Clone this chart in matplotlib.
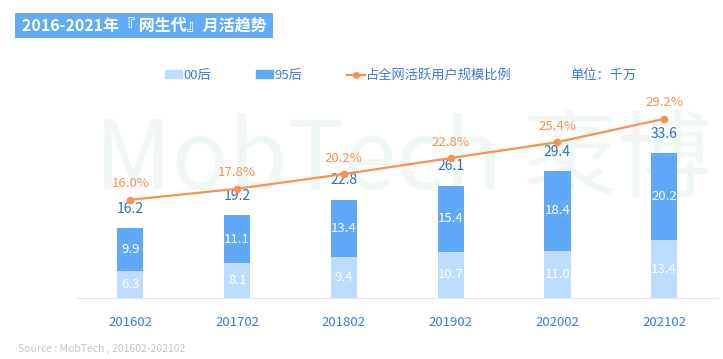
import matplotlib
matplotlib.use('Agg')
import matplotlib.pyplot as plt
from matplotlib.patches import Rectangle, Patch
from matplotlib.lines import Line2D

plt.rcParams['font.family'] = ['Noto Sans CJK SC', 'DejaVu Sans']

periods = ['201602', '201702', '201802', '201902', '202002', '202102']
gen00 = [6.3, 8.1, 9.4, 10.7, 11.0, 13.4]
gen95 = [9.9, 11.1, 13.4, 15.4, 18.4, 20.2]
totals = [16.2, 19.2, 22.8, 26.1, 29.4, 33.6]
share = [16.0, 17.8, 20.2, 22.8, 25.4, 29.2]

c00 = '#bddcff'
c95 = '#5fa9f8'
corange = '#f8924f'
cdark = '#2f70c4'

fig = plt.figure(figsize=(7.23, 3.59), dpi=100)
fig.patch.set_facecolor('white')

# faint watermark in the background
fig.text(0.985, 0.55, 'MobTech 袤博', fontsize=68, style='italic',
         color='#f0f7f5', ha='right', va='center', zorder=-5)

ax = fig.add_axes([0.1065, 0.170, 0.886, 0.552], zorder=2)
ax.patch.set_alpha(0)
x = list(range(len(periods)))
w = 0.245
ax.bar(x, gen00, w, color=c00, zorder=2)
ax.bar(x, gen95, w, bottom=gen00, color=c95, zorder=2)
for i in x:
    ax.text(i, gen00[i] / 2, f'{gen00[i]:.1f}', ha='center', va='center', color='white', fontsize=9.5)
    ax.text(i, gen00[i] + gen95[i] / 2, f'{gen95[i]:.1f}', ha='center', va='center', color='white', fontsize=9.5)
    ax.annotate(f'{totals[i]:.1f}', (i, totals[i]), xytext=(0, 14), textcoords='offset points',
                ha='center', va='center', color=cdark, fontsize=10)
ax.set_xlim(-0.5, 5.5)
ax.set_ylim(0, 46)
ax.set_yticks([])
ax.set_xticks(x)
ax.set_xticklabels(periods, color='#3a7bd5', fontsize=9.5)
ax.tick_params(axis='x', length=0, pad=13)
for s in ['top', 'left', 'right']:
    ax.spines[s].set_visible(False)
ax.spines['bottom'].set_color('#e6e6e6')

ax2 = ax.twinx()
ax2.set_zorder(3)
ax2.patch.set_alpha(0)
ax2.plot(x, share, color=corange, lw=1.6, marker='o', ms=4.5, zorder=3)
for i in x:
    ax2.annotate(f'{share[i]:.1f}%', (i, share[i]), xytext=(0, 11.5), textcoords='offset points',
                 ha='center', va='center', color=corange, fontsize=9.5)
ax2.set_ylim(0, 32.3)
ax2.set_yticks([])
for s in ax2.spines.values():
    s.set_visible(False)

handles = [Patch(color=c00, label='00后'), Patch(color=c95, label='95后'),
           Line2D([0], [0], color=corange, marker='o', ms=4, lw=1.6, label='占全网活跃用户规模比例')]
leg = fig.legend(handles=handles, loc='center left', bbox_to_anchor=(0.212, 0.79), ncol=3, frameon=False,
                 fontsize=9.5, handlelength=1.3, handleheight=0.55, handletextpad=0.1, columnspacing=3.4)
for t in leg.get_texts():
    t.set_color('#3a7bd5')
fig.text(570 / 723, 0.79, '单位：千万', color='#3a7bd5', fontsize=9.5, va='center')

# title box
fig.patches.append(Rectangle((15 / 723, 1 - 38 / 359), 258 / 723, 25 / 359, transform=fig.transFigure,
                             facecolor='#62acf7', edgecolor='none', zorder=1))
fig.text(22 / 723, 1 - 25.5 / 359, '2016-2021年『 网生代』月活趋势', color='white', fontsize=11.5,
         fontweight='bold', va='center', zorder=2)

fig.text(18 / 723, 1 - 349 / 359, 'Source : MobTech , 201602-202102', color='#c4c4c4', fontsize=7.5, va='center')

fig.savefig('out.png', dpi=100)
